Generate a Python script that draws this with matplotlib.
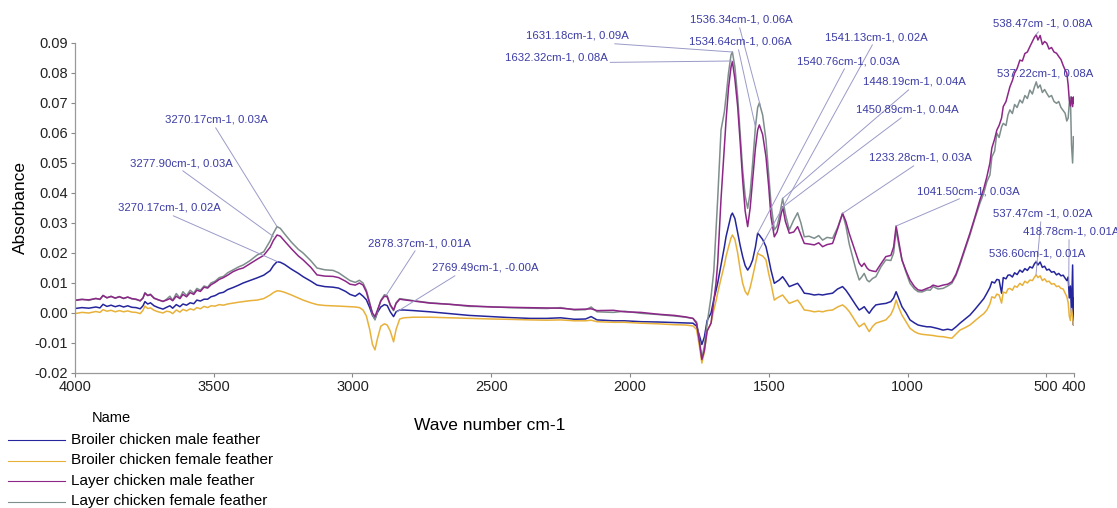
import numpy as np
import matplotlib
matplotlib.use('Agg')
import matplotlib.pyplot as plt
from matplotlib.lines import Line2D

plt.rcParams['font.family'] = ['Liberation Sans', 'DejaVu Sans']

# wave numbers (cm-1) and absorbance in milli-absorbance units (mA)
wavenumber = [
    4000, 3975, 3950, 3925, 3910, 3899, 3885, 3870, 3855, 3840, 3825, 3810, 3795, 3780, 3765, 3755, 3748, 3738, 3728, 3715, 3700,
    3683, 3670, 3658, 3648, 3635, 3622, 3611, 3598, 3585, 3572, 3561, 3548, 3535, 3522, 3510, 3495, 3480, 3465, 3450, 3430,
    3410, 3394, 3370, 3344, 3320, 3297, 3285, 3272, 3260, 3245, 3220, 3195, 3178, 3150, 3128, 3100, 3070, 3050, 3025, 3009,
    2990, 2975, 2962, 2950, 2938, 2928, 2919, 2910, 2898, 2885, 2875, 2864, 2852, 2843, 2830, 2815, 2780,
    2721, 2650, 2580, 2500, 2440, 2360, 2300, 2250, 2200, 2160, 2140, 2119, 2060, 2020, 1960, 1900, 1840, 1800, 1773,
    1760, 1750, 1741, 1732, 1722, 1708, 1698, 1690, 1684, 1672, 1660, 1654, 1645, 1636, 1631, 1622, 1612, 1603, 1594, 1585,
    1576, 1567, 1558, 1548, 1540, 1534, 1522, 1510, 1500, 1492, 1480,
    1470, 1462, 1450, 1440, 1426, 1410, 1396, 1384, 1372, 1355, 1336, 1320, 1306, 1290, 1270, 1252, 1234, 1222, 1210, 1198,
    1186, 1174, 1165, 1156, 1146, 1138, 1126, 1114, 1095, 1078, 1060, 1050, 1041, 1030, 1020, 1005,
    991, 975, 962, 948, 930, 918, 908, 890, 872, 855, 840, 825, 811, 795, 775, 757, 739, 725, 714, 703,
    696, 686, 678, 670, 661, 655, 645, 638, 631, 622, 614, 605, 595, 586, 577, 568, 559, 550, 542, 536,
    530, 522, 514, 506, 498, 490, 481, 472, 463, 455, 447, 439, 432, 426, 421, 417, 413, 409, 405, 402, 400,
]

broiler_male = [
    1.5, 1.8, 1.6, 2.0, 1.7, 2.9, 2.2, 2.6, 2.1, 2.5, 2.0, 2.4, 1.9, 1.8, 1.4, 2.4, 3.8, 3.0, 3.4, 2.4, 1.8,
    1.3, 1.9, 2.4, 1.6, 2.8, 2.1, 3.0, 2.6, 3.4, 3.1, 4.3, 4.0, 4.6, 4.6, 5.4, 5.8, 6.6, 6.9, 7.8, 8.5,
    9.3, 10.0, 10.8, 11.7, 12.6, 14.1, 15.8, 17.1, 16.9, 16.2, 14.6, 13.2, 12.1, 10.6, 9.3, 8.8, 8.6, 8.3, 7.2, 6.2,
    5.6, 6.6, 5.6, 4.4, 1.8, -0.8, -2.0, 0.2, 2.0, 2.8, 2.5, 0.4, -1.2, 0.4, 1.0, 1.0, 0.8,
    0.4, -0.2, -0.8, -1.2, -1.5, -1.8, -1.8, -1.6, -2.1, -2.0, -1.2, -2.3, -2.6, -2.6, -2.9, -3.0, -3.2, -3.3, -3.4,
    -4.4, -7.5, -10.5, -8.0, -2.5, 0.0, 4.5, 7.5, 10.0, 16.0, 22.0, 25.4, 29.0, 32.5, 33.3, 31.5, 26.7, 22.5, 18.8, 15.8,
    14.3, 15.6, 17.7, 22.0, 26.6, 26.0, 24.5, 22.1, 18.0, 14.3, 9.9,
    10.5, 11.0, 12.1, 10.8, 8.8, 9.4, 9.9, 8.4, 6.6, 6.4, 6.0, 6.2, 6.0, 6.3, 6.6, 8.0, 8.8, 7.6, 6.0, 4.3,
    2.6, 1.0, 1.5, 2.1, 0.8, -0.1, 1.5, 2.7, 3.0, 3.2, 3.8, 5.0, 7.1, 4.5, 2.1, 0.0,
    -2.3, -3.3, -4.0, -4.3, -4.6, -4.6, -4.8, -5.2, -5.7, -5.4, -5.7, -4.6, -3.4, -2.2, -0.7, 1.2, 3.2, 4.8, 6.6, 8.5,
    10.4, 10.0, 11.2, 11.0, 6.6, 11.8, 11.4, 12.6, 12.7, 12.0, 13.4, 12.8, 14.3, 13.6, 14.8, 14.2, 15.4, 15.0, 16.5, 17.1,
    16.0, 17.0, 15.2, 15.6, 14.3, 14.6, 13.6, 13.8, 12.7, 13.2, 12.4, 12.6, 11.6, 10.8, 12.0, 5.0, 9.0, 0.0, 16.0, -4.0, 5.0,
]

broiler_female = [
    -0.2, 0.2, 0.0, 0.5, 0.2, 1.1, 0.6, 0.9, 0.4, 0.8, 0.4, 0.7, 0.3, 0.2, -0.2, 0.9, 2.3, 1.5, 1.7, 0.9, 0.4,
    0.0, 0.6, 0.4, -0.2, 1.0, 0.3, 1.2, 0.7, 1.4, 1.0, 1.8, 1.4, 2.2, 1.8, 2.4, 2.3, 2.8, 2.6, 3.0, 3.3,
    3.6, 3.8, 4.1, 4.3, 4.8, 6.0, 6.8, 7.4, 7.3, 6.9, 6.0, 5.0, 4.3, 3.4, 2.8, 2.5, 2.4, 2.3, 2.2, 2.1,
    2.0, 1.8, 1.0, -1.0, -5.5, -10.5, -12.3, -8.5, -4.4, -3.6, -4.0, -6.0, -9.6, -5.5, -2.0, -1.6, -1.4,
    -1.4, -1.6, -1.8, -2.0, -2.1, -2.3, -2.4, -2.3, -2.6, -2.6, -2.4, -2.9, -3.1, -3.1, -3.4, -3.6, -3.9, -4.0, -4.3,
    -5.5, -11.0, -16.7, -13.0, -6.0, -3.4, 1.0, 4.0, 6.7, 11.5, 16.0, 18.8, 22.0, 25.0, 26.0, 24.5, 20.0, 14.5, 9.9, 7.2,
    6.0, 8.5, 12.1, 16.5, 19.9, 19.5, 19.0, 17.7, 13.0, 9.9, 4.3,
    5.0, 5.4, 6.0, 4.8, 3.2, 3.8, 4.3, 2.8, 1.0, 0.8, 0.4, 0.6, 0.4, 0.8, 1.0, 2.0, 2.7, 1.8, 0.5, -1.2,
    -3.0, -4.6, -4.0, -3.4, -5.0, -6.2, -4.5, -3.4, -2.8, -2.3, -0.5, 1.5, 4.3, 1.5, -0.7, -3.0,
    -5.1, -6.2, -6.8, -7.1, -7.3, -7.4, -7.5, -7.8, -7.9, -8.2, -8.4, -7.0, -5.7, -5.0, -4.0, -2.6, -1.2, -0.2, 1.0, 3.0,
    5.4, 5.0, 6.3, 6.0, 3.3, 7.0, 6.6, 8.0, 8.2, 7.6, 9.0, 8.6, 9.9, 9.2, 10.6, 10.0, 11.0, 10.8, 12.0, 12.7,
    11.8, 12.4, 10.8, 11.4, 10.4, 10.6, 9.6, 9.8, 8.8, 9.0, 8.2, 8.0, 6.6, 5.5, 3.5, -1.0, -2.5, 1.5, -1.2, -4.0, -3.0,
]

layer_male = [
    4.2, 4.5, 4.4, 4.8, 4.6, 5.8, 5.1, 5.5, 5.0, 5.4, 4.9, 5.3, 4.8, 4.6, 4.1, 5.0, 6.6, 5.8, 6.1, 4.9, 4.4,
    3.9, 4.3, 4.8, 4.1, 5.6, 4.8, 6.2, 5.4, 6.8, 6.2, 7.6, 7.2, 8.6, 8.3, 9.4, 10.2, 11.2, 11.8, 12.6, 13.8,
    14.6, 15.0, 16.4, 17.9, 19.2, 21.9, 24.2, 26.0, 25.6, 24.0, 21.4, 19.0, 17.7, 15.2, 12.7, 12.3, 12.2, 11.8, 10.6, 9.6,
    9.3, 10.0, 9.3, 7.0, 3.0, 0.0, -1.2, 1.0, 4.0, 5.6, 5.4, 2.8, 1.0, 3.2, 4.6, 4.4, 4.0,
    3.3, 2.9, 2.4, 2.0, 1.9, 1.8, 1.7, 1.6, 1.2, 1.3, 1.4, 0.8, 0.9, 0.4, 0.2, -0.4, -0.8, -1.3, -1.8,
    -3.5, -9.5, -15.5, -12.5, -6.0, -3.4, 4.0, 10.0, 16.7, 38.0, 55.4, 64.0, 75.0, 82.0, 83.8, 78.0, 68.8, 57.0, 44.3, 34.0,
    28.8, 35.0, 44.3, 55.0, 61.0, 62.7, 59.5, 52.1, 42.0, 32.1, 25.4,
    27.0, 29.9, 35.4, 30.5, 26.6, 27.0, 28.8, 26.0, 23.2, 23.0, 22.7, 23.4, 22.1, 22.8, 23.2, 28.0, 33.2, 30.5, 26.5, 23.2,
    20.0, 16.6, 15.5, 16.6, 15.0, 14.3, 14.0, 13.8, 16.5, 18.8, 19.2, 22.0, 29.0, 23.0, 17.7, 14.0,
    11.0, 8.8, 7.7, 7.5, 8.2, 8.6, 9.3, 8.8, 9.3, 9.6, 10.4, 13.0, 16.6, 21.0, 26.6, 32.0, 37.7, 41.5, 45.4, 50.0,
    55.0, 58.0, 61.0, 62.5, 65.0, 68.8, 70.5, 73.0, 75.4, 77.5, 80.0, 81.5, 84.3, 84.0, 86.5, 87.0, 88.8, 90.5, 92.0, 92.7,
    91.0, 92.5, 89.5, 90.5, 89.9, 88.0, 88.5, 87.0, 86.6, 85.5, 84.5, 82.5, 81.0, 80.0, 76.0, 71.0, 69.0, 72.0, 68.8, 72.0, 70.0,
]

layer_female = [
    4.3, 4.6, 4.2, 4.9, 4.5, 5.9, 5.0, 5.6, 4.9, 5.5, 4.8, 5.3, 4.7, 4.5, 4.0, 5.0, 6.8, 5.9, 6.3, 5.0, 4.4,
    3.8, 4.6, 5.6, 4.2, 6.5, 5.0, 7.1, 5.8, 7.6, 6.6, 8.2, 7.6, 9.0, 8.6, 10.0, 10.6, 11.8, 12.2, 13.4, 14.4,
    15.4, 16.0, 17.4, 19.3, 20.4, 24.0, 26.6, 28.8, 28.2, 26.4, 23.6, 21.2, 20.0, 17.4, 15.0, 14.4, 14.2, 13.4, 11.8, 10.8,
    10.2, 10.9, 10.0, 7.6, 3.5, -0.5, -2.3, 0.5, 4.2, 6.1, 5.8, 2.5, 0.8, 3.4, 4.8, 4.6, 4.1,
    3.4, 2.9, 2.2, 2.1, 1.8, 1.6, 1.5, 1.8, 1.0, 1.1, 2.0, 0.4, 0.2, 0.6, -0.1, -0.5, -1.0, -1.4, -1.8,
    -3.0, -9.0, -15.0, -11.0, -3.5, 5.4, 14.0, 27.7, 38.0, 61.0, 67.0, 72.0, 80.0, 86.0, 87.0, 82.0, 72.0, 60.0, 47.7, 39.0,
    34.9, 40.0, 50.0, 62.0, 68.5, 70.0, 66.0, 57.7, 46.0, 36.6, 27.7,
    29.0, 32.1, 38.2, 33.0, 27.7, 31.0, 33.4, 30.0, 25.4, 25.6, 24.9, 25.8, 24.3, 25.2, 24.9, 28.5, 33.2, 29.0, 23.0, 18.8,
    14.5, 11.0, 12.0, 13.2, 11.0, 10.4, 11.5, 12.1, 15.5, 17.7, 17.5, 20.0, 27.7, 22.0, 17.7, 13.5,
    9.9, 8.0, 7.1, 7.0, 7.7, 7.6, 8.8, 8.0, 8.2, 9.0, 9.9, 12.5, 16.0, 20.5, 26.0, 31.5, 36.6, 40.0, 43.8, 46.0,
    52.0, 54.0, 60.0, 58.5, 62.0, 63.2, 62.5, 66.0, 67.7, 66.5, 69.5, 68.5, 71.0, 70.0, 72.5, 71.5, 74.3, 73.0, 75.5, 77.0,
    75.0, 76.0, 73.5, 74.5, 73.2, 72.0, 72.5, 70.5, 69.9, 70.5, 68.5, 67.5, 66.6, 64.0, 65.0, 70.0, 72.0, 56.0, 50.0, 58.8, 58.0,
]

series_names = ['Broiler chicken male feather', 'Broiler chicken female feather',
                'Layer chicken male feather', 'Layer chicken female feather']
series_colors = ['#25259c', '#e8b13a', '#8c2788', '#7e8e8c']

# peak labels: text, labelled point (cm-1, A), text centre in figure pixels from top-left
peak_text = ['3270.17cm-1, 0.03A', '3277.90cm-1, 0.03A', '3270.17cm-1, 0.02A',
             '2878.37cm-1, 0.01A', '2769.49cm-1, -0.00A',
             '1631.18cm-1, 0.09A', '1632.32cm-1, 0.08A', '1536.34cm-1, 0.06A', '1534.64cm-1, 0.06A',
             '1541.13cm-1, 0.02A', '1540.76cm-1, 0.03A', '1448.19cm-1, 0.04A', '1450.89cm-1, 0.04A',
             '1233.28cm-1, 0.03A', '1041.50cm-1, 0.03A',
             '538.47cm -1, 0.08A', '537.22cm-1, 0.08A', '537.47cm -1, 0.02A',
             '418.78cm-1, 0.01A', '536.60cm-1, 0.01A']
peak_wn = [3272, 3285, 3270, 2878, 2840, 1631, 1632, 1530, 1548, 1541, 1540,
           1450, 1448, 1234, 1041, 538, 537, 537, 419, 536]
peak_abs = [0.0288, 0.0255, 0.0171, 0.0060, 0.0004, 0.087, 0.084, 0.069, 0.062, 0.0199, 0.0266,
            0.0382, 0.0354, 0.0332, 0.029, 0.0927, 0.077, 0.0127, 0.009, 0.0171]
text_x = [216, 181, 169, 419, 485, 577, 556, 741, 740, 876, 848,
          914, 907, 920, 968, 1043, 1045, 1043, 1071, 1037]
text_y = [120, 163, 208, 243, 268, 36, 58, 20, 42, 37, 61,
          82, 110, 158, 191, 24, 74, 214, 232, 253]

W, H = 1117, 508
fig = plt.figure(figsize=(W / 100, H / 100), dpi=100)
ax = fig.add_axes([75 / W, 1 - 373 / H, (1074 - 75) / W, (373 - 28) / H])

wn = np.array(wavenumber)
for vals, name, col in zip([broiler_male, broiler_female, layer_female, layer_male],
                           [series_names[0], series_names[1], series_names[3], series_names[2]],
                           [series_colors[0], series_colors[1], series_colors[3], series_colors[2]]):
    ax.plot(wn, np.array(vals) / 1000, color=col, lw=1.1, label=name)

ax.set_xlim(4000, 400)
ax.set_ylim(-0.02, 0.095)
ax.set_xticks([4000, 3500, 3000, 2500, 2000, 1500, 1000, 500, 400])
ax.set_yticks(np.arange(-0.02, 0.0901, 0.01))
ax.set_yticklabels(['%.2f' % v for v in np.arange(-0.02, 0.0901, 0.01)])
ax.tick_params(labelsize=10.5, length=3, width=0.8, color='#888888', pad=2, labelcolor='#222222')
for s in ['top', 'right']:
    ax.spines[s].set_visible(False)
for s in ['left', 'bottom']:
    ax.spines[s].set_color('#999999')
    ax.spines[s].set_linewidth(0.9)
ax.spines['left'].set_bounds(-0.02, 0.09)

for i, t in enumerate(peak_text):
    rel = (0.26, 0) if i == 4 else (0.48, 0)
    ax.annotate(t, xy=(peak_wn[i], peak_abs[i]), xytext=(text_x[i], H - text_y[i]),
                textcoords='figure pixels', ha='center', va='center',
                fontsize=8.2, color='#3c3ca6', annotation_clip=False,
                arrowprops=dict(arrowstyle='-', color='#9a9ac8', lw=0.7,
                                shrinkA=0, shrinkB=0, relpos=rel))

fig.text(20 / W, 1 - 208 / H, 'Absorbance', rotation=90, ha='center', va='center', fontsize=12.5)
fig.text(490 / W, 1 - 425 / H, 'Wave number cm-1', ha='center', va='center', fontsize=12.5)

# legend drawn by hand below the axes
fig.text(92 / W, 1 - 418 / H, 'Name', ha='left', va='center', fontsize=10.5)
for i, (name, col) in enumerate(zip(series_names, series_colors)):
    y = 1 - (440 + 20.5 * i) / H
    fig.add_artist(Line2D([8 / W, 65 / W], [y, y], color=col, lw=0.8))
    fig.text(71 / W, y, name, ha='left', va='center', fontsize=11)

fig.savefig('out.png', dpi=100)
